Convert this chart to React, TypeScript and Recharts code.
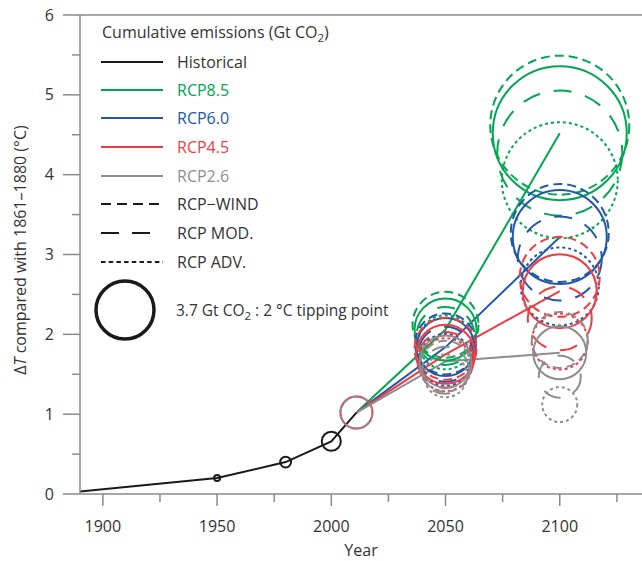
import React from "react";
import { ComposedChart, Line, Scatter, XAxis, YAxis, ZAxis, ReferenceLine, Legend } from "recharts";

const FONT = '"Open Sans", "Noto Sans", sans-serif';
const INK = "#333333";
const AXIS = "#8a8a8a";
const FS = 16;

// observed record
const histYears = [1890, 1950, 1980, 2000, 2011];
const histTemp = [0.03, 0.2, 0.4, 0.66, 1.02];
const histEmis = [0, 0.04, 0.13, 0.4, 1.13]; // circle size (0 = no circle)

const futureYears = [2050, 2100];
const scenarioNames = ["RCP8.5", "RCP6.0", "RCP4.5", "RCP2.6"];
const scenarioColors = ["#00a651", "#2157a8", "#ef3b42", "#8d8d8f"];
const variantNames = ["RCP\u2212WIND", "RCP MOD.", "RCP ADV."];
const variantDash = ["", "9 5", "18 14", "3 3"];
const legendDash = ["10 6", "18 13", "4.5 3.2"];

// ΔT (°C) at 2050 / 2100 — rows: base RCP, WIND, MOD., ADV.
const rcp85Temp = [[2.06, 4.52], [2.12, 4.62], [1.98, 4.27], [1.9, 3.93]];
const rcp60Temp = [[1.84, 3.22], [1.88, 3.27], [1.75, 2.95], [1.68, 2.6]];
const rcp45Temp = [[1.75, 2.54], [1.82, 2.72], [1.68, 2.2], [1.62, 1.91]];
const rcp26Temp = [[1.66, 1.77], [1.6, 1.93], [1.55, 1.47], [1.48, 1.12]];

// cumulative emissions (Gt CO2) at 2050 / 2100, same rows
const rcp85Emis = [[4.23, 19.75], [4.79, 21.25], [3.7, 17.2], [3.21, 14.8]];
const rcp60Emis = [[3.7, 9.72], [4.09, 10.56], [3.33, 7.76], [2.97, 6.69]];
const rcp45Emis = [[3.83, 6.02], [4.23, 7.04], [3.45, 4.5], [3.09, 3.45]];
const rcp26Emis = [[2.97, 3.09], [2.86, 3.45], [2.43, 1.94], [2.03, 1.35]];

const tippingEmis = 3.7;
const xTicks = [1900, 1925, 1950, 1975, 2000, 2025, 2050, 2075, 2100, 2125];
const yTicks = [0, 0.5, 1, 1.5, 2, 2.5, 3, 3.5, 4, 4.5, 5, 5.5, 6];

// z (emissions) -> symbol area
const Z_DOMAIN = [0, 37];
const Z_RANGE = [0, 26420];

const temps = [rcp85Temp, rcp60Temp, rcp45Temp, rcp26Temp];
const emis = [rcp85Emis, rcp60Emis, rcp45Emis, rcp26Emis];
const nowIdx = histYears.length - 1;

const histLine = histYears.map((year, i) => ({ year, t: histTemp[i] }));
const histRings = histYears
  .map((year, i) => ({ year, t: histTemp[i], z: histEmis[i] }))
  .filter((d, i) => d.z > 0 && i < nowIdx);
const nowRing = [{ year: histYears[nowIdx], t: histTemp[nowIdx], z: histEmis[nowIdx] }];

const ring = (color: string, dash: string, width = 2) => (p: any) => {
  const r = p.width ? p.width / 2 : Math.sqrt(Math.max(p.size || 0, 0) / Math.PI);
  return (
    <circle cx={p.cx} cy={p.cy} r={r} fill="none" stroke={color} strokeWidth={width}
      strokeDasharray={dash || undefined} />
  );
};

const XTick = ({ x, y, payload }: any) => {
  const major = payload.value % 50 === 0;
  return (
    <g>
      <line x1={x} x2={x} y1={y} y2={y + (major ? 12 : 8)} stroke={AXIS} strokeWidth={1.5} />
      {major && (
        <text x={x} y={y + 38} textAnchor="middle" fill={INK} fontSize={FS} fontFamily={FONT}>
          {payload.value}
        </text>
      )}
    </g>
  );
};

const YTick = ({ x, y, payload }: any) => {
  const major = Number.isInteger(payload.value);
  return (
    <g>
      <line x1={x - (major ? 17 : 8)} x2={x} y1={y} y2={y} stroke={AXIS} strokeWidth={1.5} />
      {major && (
        <text x={x - 26} y={y + 5.5} textAnchor="end" fill={INK} fontSize={FS} fontFamily={FONT}>
          {payload.value}
        </text>
      )}
    </g>
  );
};

const YLabel = () => (
  <text transform="translate(26,250) rotate(-90)" textAnchor="middle" fill={INK} fontSize={FS} fontFamily={FONT}>
    Δ<tspan fontStyle="italic">T</tspan> compared with 1861–1880 (°C)
  </text>
);

const LegendBox = () => {
  const rows = [62, 90, 118, 147, 176, 204, 233, 262];
  const items = [
    { label: "Historical", color: "#1a1a1a", text: INK, dash: "" },
    ...scenarioNames.map((n, i) => ({ label: n, color: scenarioColors[i], text: scenarioColors[i], dash: "" })),
    ...variantNames.map((n, i) => ({ label: n, color: "#1a1a1a", text: INK, dash: legendDash[i] })),
  ];
  const rTip = Math.sqrt((tippingEmis * (Z_RANGE[1] / Z_DOMAIN[1])) / Math.PI);
  return (
    <svg width={360} height={345} style={{ display: "block", overflow: "visible" }}>
      <text x={102} y={38} fill={INK} fontSize={FS} fontFamily={FONT}>
        Cumulative emissions (Gt CO<tspan fontSize={11.5} dy={4}>2</tspan><tspan dy={-4}>)</tspan>
      </text>
      {items.map((it, i) => (
        <g key={it.label}>
          <line x1={101} x2={163} y1={rows[i]} y2={rows[i]} stroke={it.color} strokeWidth={2}
            strokeDasharray={it.dash || undefined} />
          <text x={177} y={rows[i] + 5.5} fill={it.text} fontSize={FS} fontFamily={FONT}>{it.label}</text>
        </g>
      ))}
      <circle cx={125} cy={310} r={rTip} fill="none" stroke="#1a1a1a" strokeWidth={3.5} />
      <text x={176} y={316} fill={INK} fontSize={FS - 0.5} fontFamily={FONT}>
        {tippingEmis} Gt CO<tspan fontSize={11.5} dy={4}>2</tspan><tspan dy={-4}> : 2 °C tipping point</tspan>
      </text>
    </svg>
  );
};

export default function App() {
  return (
    <div style={{ position: "absolute", left: 0, top: 0, width: 642, height: 561, background: "#fff" }}>
      <ComposedChart width={642} height={561} margin={{ top: 15, right: 0, bottom: 0, left: 0 }}>
        <XAxis dataKey="year" type="number" domain={[1890, 2136]} ticks={xTicks} interval={0}
          stroke={AXIS} strokeWidth={1.5} tickLine={false} tickSize={0} tickMargin={0} tick={<XTick />}
          height={67} allowDataOverflow
          label={{ value: "Year", position: "insideBottom", offset: 5, fill: INK, fontSize: FS, fontFamily: FONT }} />
        <YAxis type="number" domain={[0, 6]} ticks={yTicks} interval={0} width={80}
          stroke={AXIS} strokeWidth={1.5} tickLine={false} tickSize={0} tickMargin={0} tick={<YTick />}
          allowDataOverflow label={<YLabel />} />
        <ZAxis type="number" dataKey="z" domain={Z_DOMAIN} range={Z_RANGE} />
        <ReferenceLine y={6} stroke={AXIS} strokeWidth={1.5} />

        {scenarioNames.map((name, s) =>
          variantDash.map((dash, v) => (
            <Scatter key={`${name}-${v}`} name={`${name}-${v}`} dataKey="t" isAnimationActive={false}
              data={futureYears.map((year, k) => ({ year, t: temps[s][v][k], z: emis[s][v][k] }))}
              shape={ring(scenarioColors[s], dash)} />
          ))
        )}

        <Scatter dataKey="t" data={nowRing} isAnimationActive={false} shape={ring(scenarioColors[2], "")} />
        <Scatter dataKey="t" data={nowRing} isAnimationActive={false} shape={ring(scenarioColors[3], "7 3")} />

        {scenarioNames.map((name, s) => (
          <Line key={name} data={[histLine[nowIdx], ...futureYears.map((year, k) => ({ year, t: temps[s][0][k] }))]}
            dataKey="t" type="linear" stroke={scenarioColors[s]} strokeWidth={2} dot={false} activeDot={false}
            isAnimationActive={false} />
        ))}

        <Line data={histLine} dataKey="t" type="linear" stroke="#1a1a1a" strokeWidth={2} dot={false}
          activeDot={false} isAnimationActive={false} />
        <Scatter dataKey="t" data={histRings} isAnimationActive={false} shape={ring("#1a1a1a", "")} />

        <Legend content={<LegendBox />} layout="vertical" align="center" verticalAlign="middle"
          wrapperStyle={{ left: 0, top: 0, width: 360, height: 345 }} />
      </ComposedChart>
    </div>
  );
}
